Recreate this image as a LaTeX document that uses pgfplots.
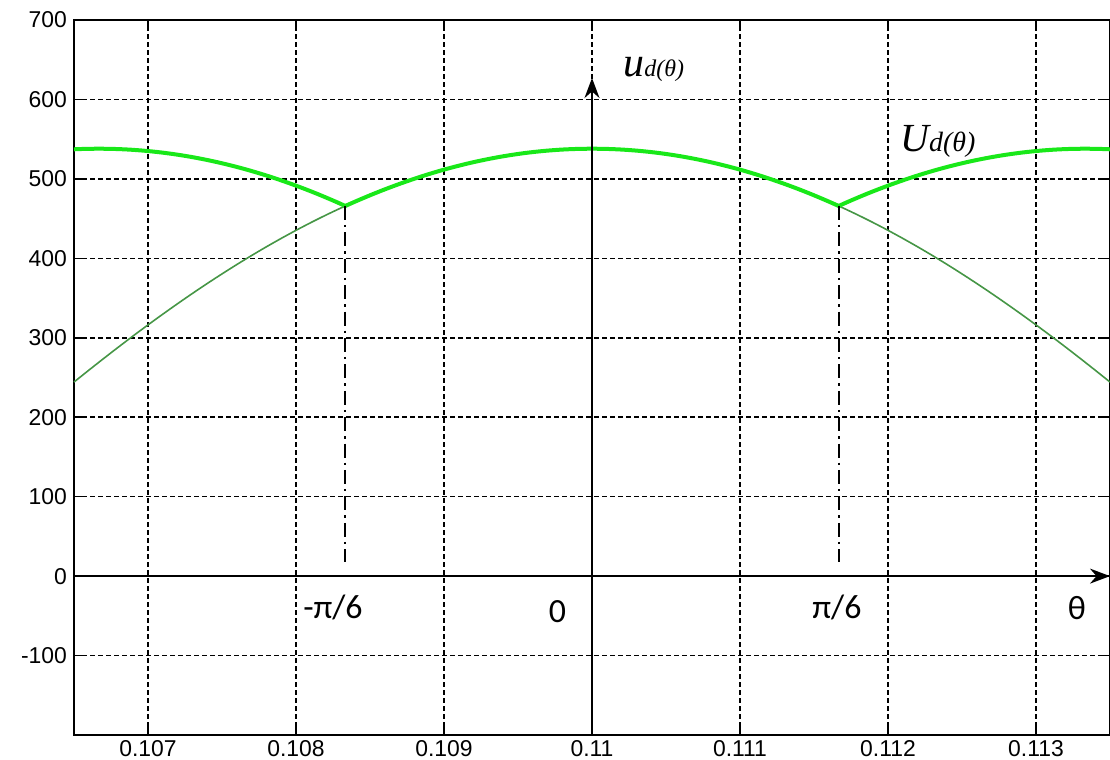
\documentclass[border=0pt]{standalone}
\usepackage{fontspec}
\setmainfont{Liberation Sans}
\newfontfamily\calibri{Carlito}
\newfontfamily\tnr{Liberation Serif}
\usepackage{pgfplots}
\pgfplotsset{compat=1.18}
\usetikzlibrary{arrows.meta}
\definecolor{brightgreen}{RGB}{25,232,25}
\definecolor{thingreen}{RGB}{70,150,70}
\begin{document}
\begin{tikzpicture}
\useasboundingbox (0,0) rectangle (555bp,380bp);
\begin{axis}[
  at={(37bp,12.5bp)}, anchor=south west,
  scale only axis, width=518bp, height=357.5bp,
  xmin=0.1065, xmax=0.1135, ymin=-200, ymax=700,
  xtick={0.107,0.108,0.109,0.110,0.111,0.112,0.113},
  xticklabels={0.107,0.108,0.109,0.11,0.111,0.112,0.113},
  ytick={-100,0,100,200,300,400,500,600,700},
  yticklabels={-100,0,100,200,300,400,500,600,700},
  scaled x ticks=false,
  grid=major,
  grid style={black, dash pattern=on 2.4bp off 1.6bp, line width=0.75bp},
  axis line style={black, line width=1bp},
  tick align=inside, major tick length=4bp,
  tick style={black, line width=0.8bp},
  ticklabel style={font=\fontsize{11.5}{13}\selectfont},
  xticklabel style={yshift=1bp},
  /pgf/number format/assume math mode=true,
  clip=false,
]
% thin full cosine centred at 0.11
\addplot[thingreen, line width=0.8bp, smooth] coordinates {
(0.1065,244.25)(0.1066,259.18)(0.1067,273.86)(0.1068,288.28)(0.1069,302.40)(0.1070,316.23)
(0.1071,329.74)(0.1072,342.93)(0.1073,355.79)(0.1074,368.29)(0.1075,380.42)(0.1076,392.19)
(0.1077,403.56)(0.1078,414.54)(0.1079,425.10)(0.1080,435.25)(0.1081,444.97)(0.1082,454.25)
(0.1083,463.08)(0.1084,471.45)(0.1085,479.36)(0.1086,486.80)(0.1087,493.75)(0.1088,500.22)
(0.1089,506.19)(0.1090,511.67)(0.1091,516.64)(0.1092,521.10)(0.1093,525.04)(0.1094,528.47)
(0.1095,531.38)(0.1096,533.76)(0.1097,535.61)(0.1098,536.94)(0.1099,537.73)(0.1100,538.00)
(0.1101,537.73)(0.1102,536.94)(0.1103,535.61)(0.1104,533.76)(0.1105,531.38)(0.1106,528.47)
(0.1107,525.04)(0.1108,521.10)(0.1109,516.64)(0.1110,511.67)(0.1111,506.19)(0.1112,500.22)
(0.1113,493.75)(0.1114,486.80)(0.1115,479.36)(0.1116,471.45)(0.1117,463.08)(0.1118,454.25)
(0.1119,444.97)(0.1120,435.25)(0.1121,425.10)(0.1122,414.54)(0.1123,403.56)(0.1124,392.19)
(0.1125,380.42)(0.1126,368.29)(0.1127,355.79)(0.1128,342.93)(0.1129,329.74)(0.1130,316.23)
(0.1131,302.40)(0.1132,288.28)(0.1133,273.86)(0.1134,259.18)(0.1135,244.25)
};
% thick envelope: left segment
\addplot[brightgreen, line width=2bp, smooth] coordinates {
(0.1065,537.26)(0.106567,537.73)(0.106667,538.00)(0.106767,537.73)(0.106867,536.94)
(0.106967,535.61)(0.107067,533.76)(0.107167,531.38)(0.107267,528.47)(0.107367,525.04)
(0.107467,521.10)(0.107567,516.64)(0.107667,511.67)(0.107767,506.19)(0.107867,500.22)
(0.107967,493.75)(0.108067,486.80)(0.108167,479.36)(0.108267,471.45)(0.108333,465.93)
};
% thick envelope: centre segment
\addplot[brightgreen, line width=2bp, smooth] coordinates {
(0.108333,465.93)(0.1084,471.45)(0.1085,479.36)(0.1086,486.80)(0.1087,493.75)(0.1088,500.22)
(0.1089,506.19)(0.1090,511.67)(0.1091,516.64)(0.1092,521.10)(0.1093,525.04)(0.1094,528.47)
(0.1095,531.38)(0.1096,533.76)(0.1097,535.61)(0.1098,536.94)(0.1099,537.73)(0.1100,538.00)
(0.1101,537.73)(0.1102,536.94)(0.1103,535.61)(0.1104,533.76)(0.1105,531.38)(0.1106,528.47)
(0.1107,525.04)(0.1108,521.10)(0.1109,516.64)(0.1110,511.67)(0.1111,506.19)(0.1112,500.22)
(0.1113,493.75)(0.1114,486.80)(0.1115,479.36)(0.1116,471.45)(0.111667,465.93)
};
% thick envelope: right segment
\addplot[brightgreen, line width=2bp, smooth] coordinates {
(0.111667,465.93)(0.111733,471.45)(0.111833,479.36)(0.111933,486.80)(0.112033,493.75)
(0.112133,500.22)(0.112233,506.19)(0.112333,511.67)(0.112433,516.64)(0.112533,521.10)
(0.112633,525.04)(0.112733,528.47)(0.112833,531.38)(0.112933,533.76)(0.113033,535.61)
(0.113133,536.94)(0.113233,537.73)(0.113333,538.00)(0.113433,537.73)(0.1135,537.26)
};
% dash-dot markers at +-pi/6
\addplot[black, line width=0.8bp, dash pattern=on 7bp off 2.5bp on 1.2bp off 2.5bp] coordinates {(0.108333,465.93)(0.108333,18)};
\addplot[black, line width=0.8bp, dash pattern=on 7bp off 2.5bp on 1.2bp off 2.5bp] coordinates {(0.111667,465.93)(0.111667,18)};
% coordinate axes
\draw[black, line width=0.9bp, -{Stealth[length=10bp,width=7.5bp]}] (axis cs:0.1100,-200) -- (axis cs:0.1100,627);
\draw[black, line width=0.9bp, -{Stealth[length=10bp,width=7.5bp]}] (axis cs:0.1065,0) -- (axis cs:0.1135,0);
% labels
\node[font=\calibri\fontsize{17}{17}\selectfont] at (axis cs:0.10825,-40) {-π/6};
\node[font=\calibri\fontsize{17}{17}\selectfont] at (axis cs:0.109767,-45) {0};
\node[font=\calibri\fontsize{17}{17}\selectfont] at (axis cs:0.111655,-40) {π/6};
\node[font=\calibri\fontsize{17}{17}\selectfont] at (axis cs:0.113277,-40) {θ};
\node[anchor=base west, inner sep=0pt] at (axis cs:0.11021,629)
  {\tnr\itshape{\fontsize{21}{21}\selectfont u}{\fontsize{12}{12}\selectfont d(θ)}};
\node[anchor=base west, inner sep=0pt] at (axis cs:0.112081,535)
  {\tnr\itshape{\fontsize{20}{20}\selectfont U}{\fontsize{14}{14}\selectfont d(θ)}};
\end{axis}
\end{tikzpicture}
\end{document}
